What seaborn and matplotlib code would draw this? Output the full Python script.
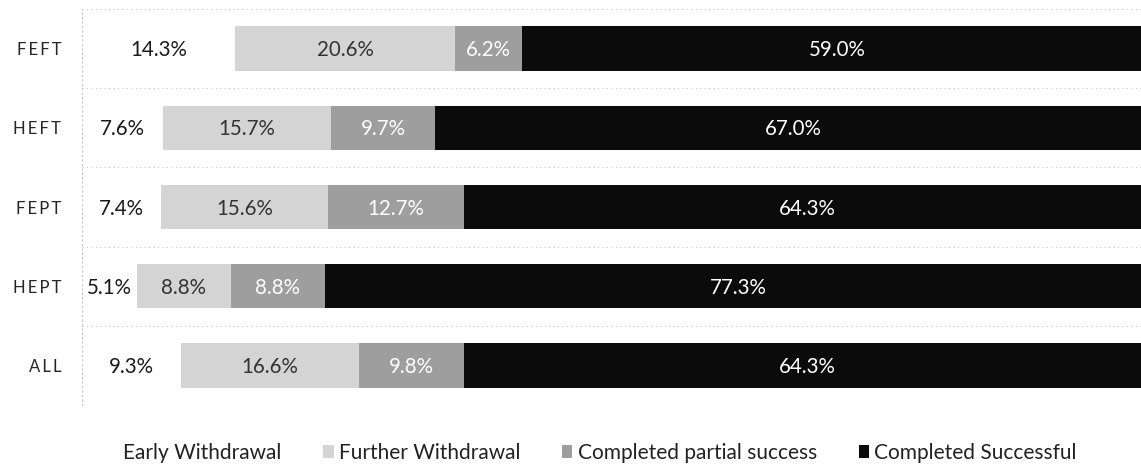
import numpy as np
import pandas as pd
import matplotlib
matplotlib.use("Agg")
import matplotlib.pyplot as plt
from matplotlib.patches import Patch
import seaborn as sns

categories = ["FEFT", "HEFT", "FEPT", "HEPT", "ALL"]
early = [14.3, 7.6, 7.4, 5.1, 9.3]
further = [20.6, 15.7, 15.6, 8.8, 16.6]
partial = [6.2, 9.7, 12.7, 8.8, 9.8]
successful = [59.0, 67.0, 64.3, 77.3, 64.3]
series_names = ["Early Withdrawal", "Further Withdrawal",
                "Completed partial success", "Completed Successful"]

sns.set_theme(style="white")
plt.rcParams['font.family'] = ['Lato', 'DejaVu Sans']

colors = ["#ffffff", "#d4d4d4", "#9e9e9e", "#0b0b0b"]
text_colors = ["#1a1a1a", "#333333", "#ffffff", "#ffffff"]

series = [early, further, partial, successful]
df = pd.DataFrame({"cat": categories})
cum = np.zeros(len(categories))
starts = []
for name, vals in zip(series_names, series):
    starts.append(cum.copy())
    cum = cum + np.array(vals)
    df[name] = cum.copy()

fig = plt.figure(figsize=(11.41, 4.66), dpi=100)
ax = fig.add_axes([82 / 1141, 1 - 405 / 466, (1141 - 82) / 1141, 396 / 466])

# draw cumulative bars from widest to narrowest (stacked look)
for name, col in reversed(list(zip(series_names, colors))):
    sns.barplot(data=df, x=name, y="cat", orient="h", color=col,
                width=0.56, ax=ax, saturation=1, linewidth=0)

for vals, st, tc in zip(series, starts, text_colors):
    for i, (v, s) in enumerate(zip(vals, st)):
        ax.text(s + v / 2, i + 0.02, f"{v:.1f}%", ha="center", va="center",
                fontsize=14.8, color=tc)

ax.set_xlim(0, 99.0)
ax.set_ylim(4.5, -0.5)
ax.set_xlabel("")
ax.set_ylabel("")
ax.set_xticks([])
ax.set_yticks(range(len(categories)))
ax.set_yticklabels(["\u2009".join(c) for c in categories], fontsize=12,
                   color="#262626")
ax.tick_params(axis="y", length=0, pad=15)
ax.set_yticks(np.arange(-0.5, 5.0, 1.0), minor=True)
ax.tick_params(axis="y", which="minor", length=0)
ax.grid(axis="y", which="minor", color="#c4c4c4", linestyle=(0, (1, 3)),
        linewidth=0.8)
ax.grid(axis="y", which="major", visible=False)
ax.set_axisbelow(True)
for sp in ["top", "right", "bottom"]:
    ax.spines[sp].set_visible(False)
ax.spines["left"].set_color("#c4c4c4")
ax.spines["left"].set_linestyle((0, (1, 3)))
ax.spines["left"].set_linewidth(0.8)

handles = [Patch(facecolor=c, edgecolor="none") for c in colors]
fig.legend(handles, series_names, loc="center", bbox_to_anchor=(0.519, 1 - 453 / 466),
           ncol=4, frameon=False, fontsize=15, handlelength=0.5,
           handleheight=0.6, handletextpad=0.25, columnspacing=2.0,
           labelcolor="#222222")

fig.savefig("out.png", dpi=100)
